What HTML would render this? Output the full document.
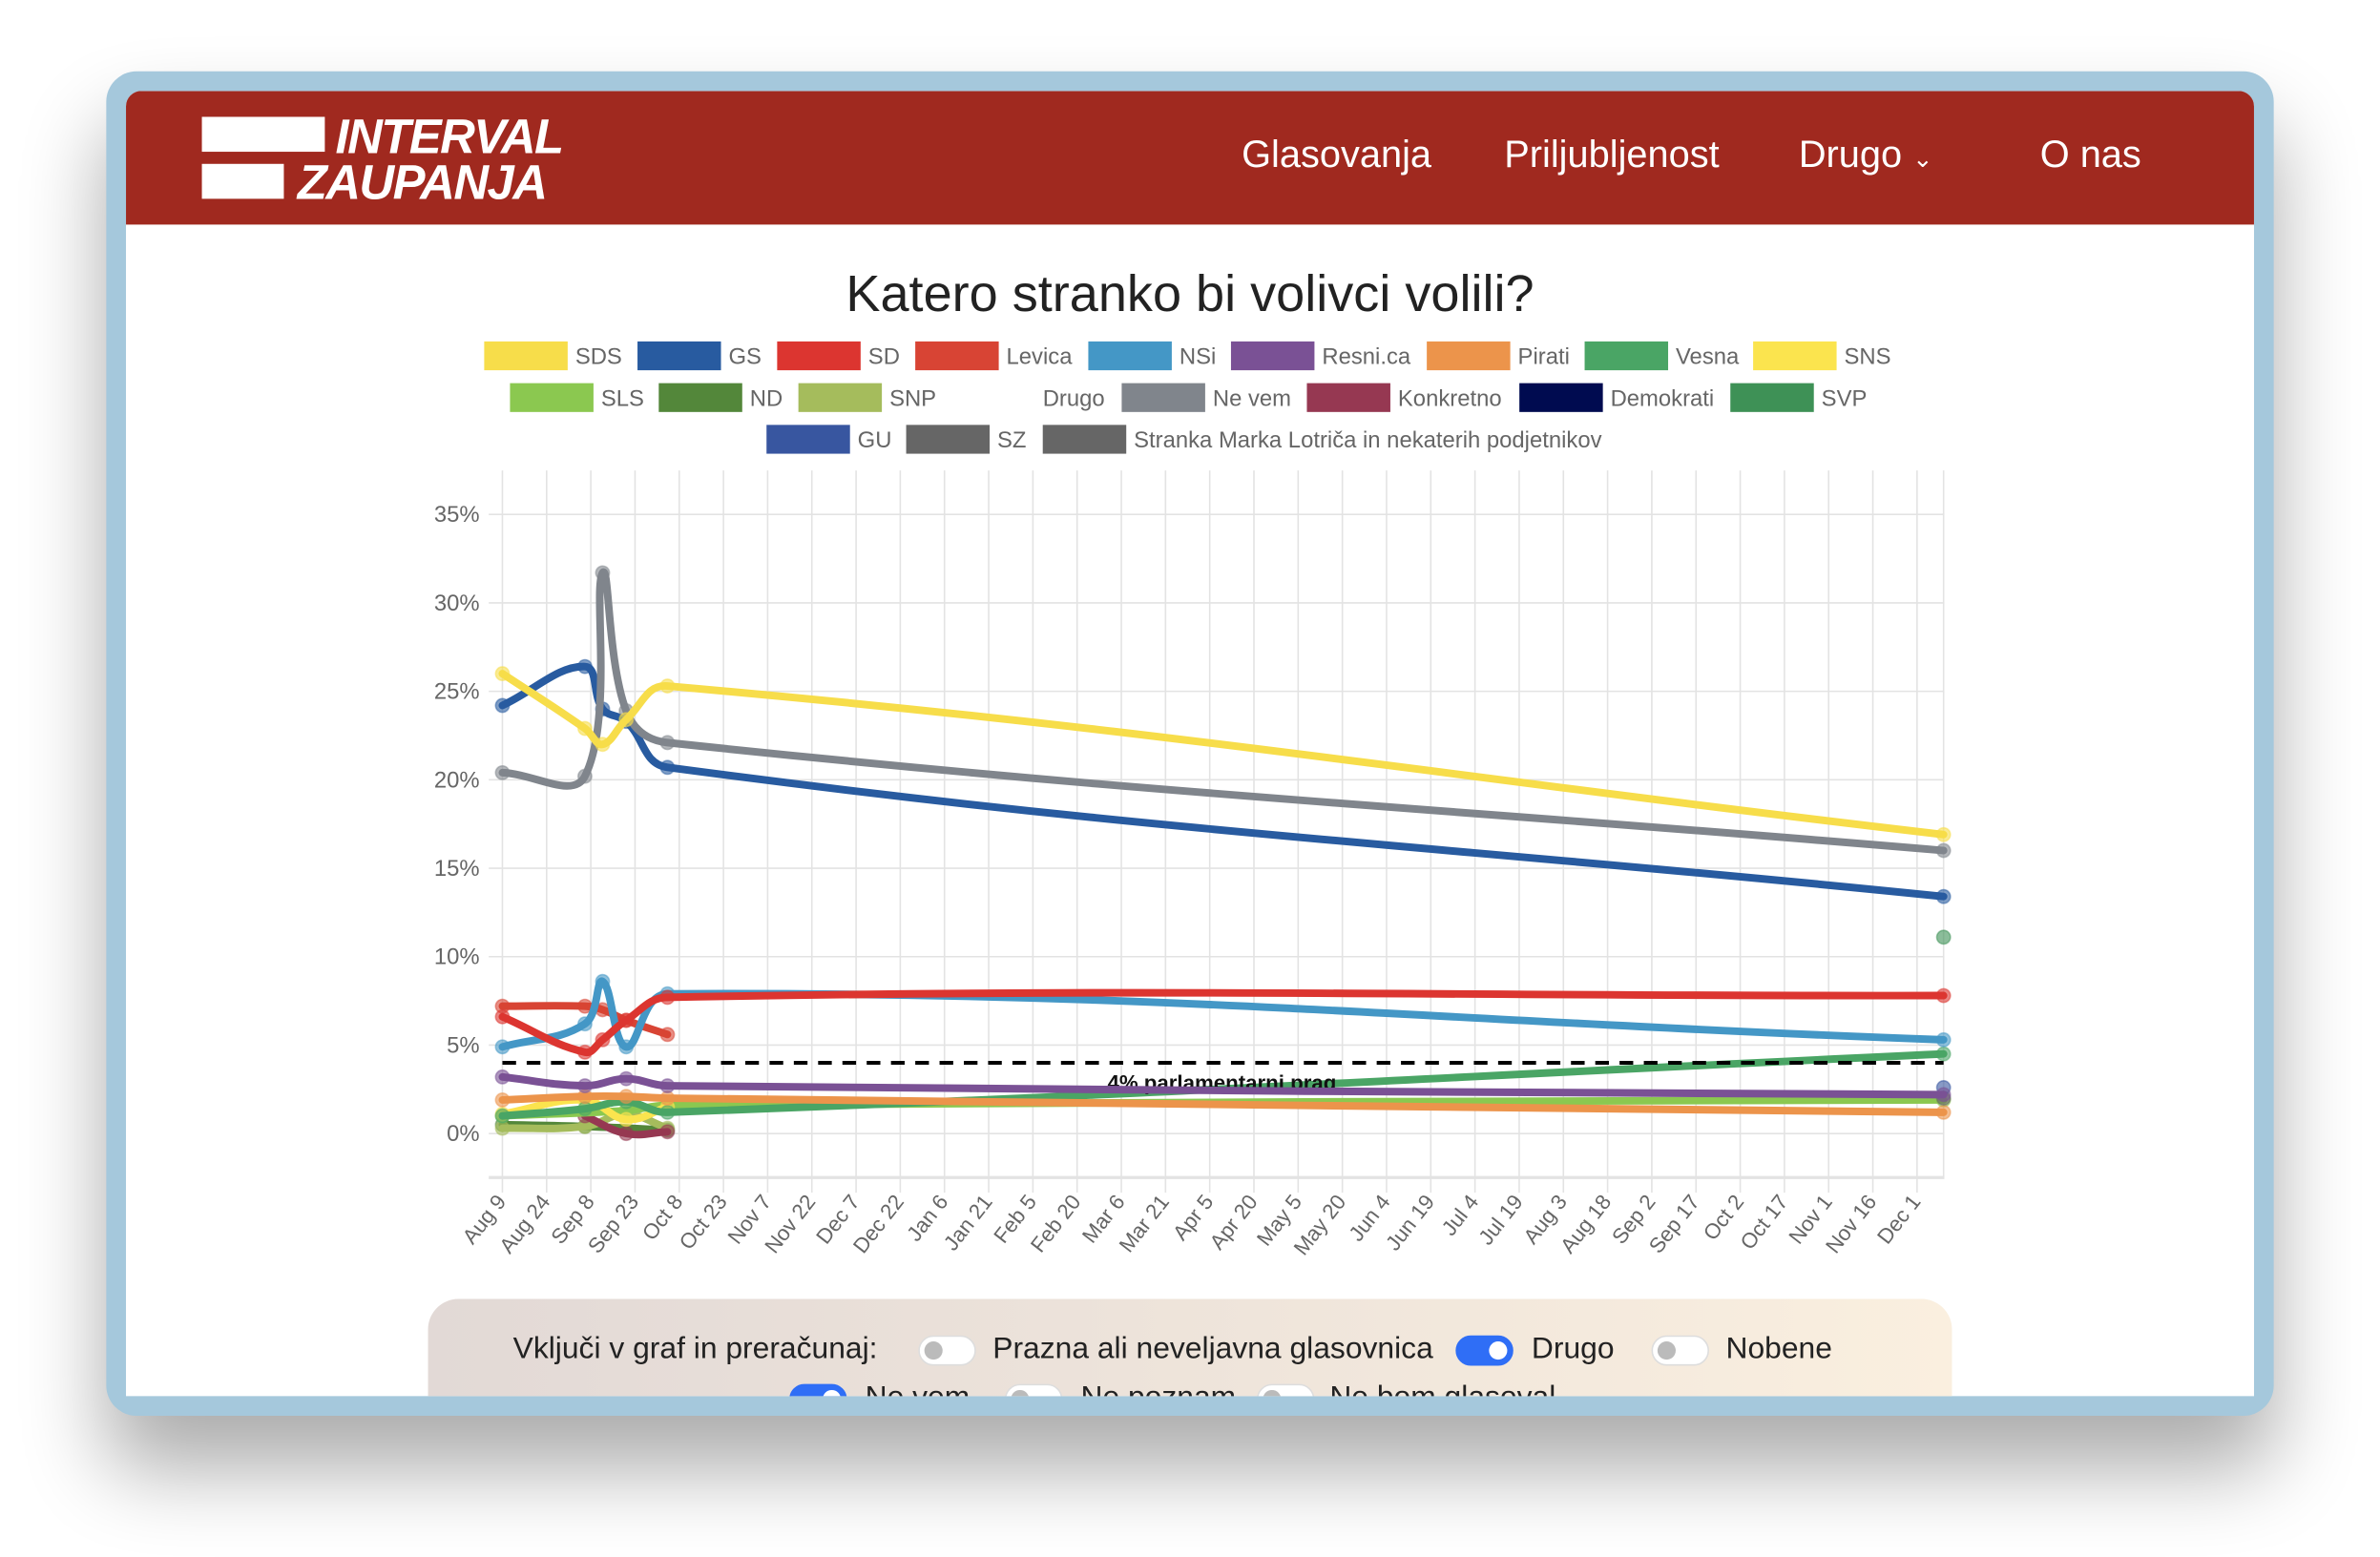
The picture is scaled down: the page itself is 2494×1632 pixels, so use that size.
<!DOCTYPE html>
<html><head><meta charset="utf-8"><style>
html,body{margin:0;padding:0;width:2494px;height:1632px;overflow:hidden;background:#fff;font-family:"Liberation Sans",sans-serif}
#root{position:absolute;left:0;top:0;width:1568px;height:1026px;transform:scale(1.590561);transform-origin:0 0}
#frame{position:absolute;left:70px;top:47px;width:1428px;height:886px;background:#a5c8dc;border-radius:20px;box-shadow:0 35px 55px rgba(0,0,0,0.33)}
#win{position:absolute;left:83px;top:60px;width:1402px;height:860px;background:#fff;border-radius:10px 10px 0 0;overflow:hidden}
#hdr{position:absolute;left:0;top:0;width:1402px;height:88px;background:#a0291f}
.nav{position:absolute;top:28px;color:#fff;font-size:25px}
#panel{position:absolute;left:199px;top:796px;width:1004px;height:100px;border-radius:20px;background:linear-gradient(90deg,#e2d9d6,#faefdf)}
.sw{position:absolute;width:36px;height:18px;border-radius:10px;background:#fff;border:1px solid #ddd}
.sw i{position:absolute;left:3px;top:3px;width:12px;height:12px;border-radius:50%;background:#bbb}
.sw.on{background:#2f6ef6;border-color:#2f6ef6}
.sw.on i{left:21px;background:#fff}
.pt{position:absolute;font-size:20px;color:#222}
</style></head><body>
<div id="root">
<div id="frame"></div>
<div id="win">
 <div id="hdr">
  <div style="position:absolute;left:50px;top:17px;width:260px;height:60px">
   <div style="position:absolute;left:0;top:0;width:81px;height:23px;background:#fff"></div>
   <div style="position:absolute;left:0;top:31px;width:54px;height:23px;background:#fff"></div>
   <div style="position:absolute;left:88px;top:-5px;color:#fff;font-weight:bold;font-style:italic;font-size:32px;letter-spacing:-1px">INTERVAL</div>
   <div style="position:absolute;left:63px;top:25px;color:#fff;font-weight:bold;font-style:italic;font-size:32px;letter-spacing:-1px">ZAUPANJA</div>
  </div>
  <div class="nav" style="left:735px">Glasovanja</div>
  <div class="nav" style="left:908px">Priljubljenost</div>
  <div class="nav" style="left:1102px">Drugo <span style="font-size:16px">&#8964;</span></div>
  <div class="nav" style="left:1261px">O nas</div>
 </div>
 <svg id="chart" width="1402" height="760" viewBox="83 148 1402 760" style="position:absolute;left:0;top:88px">
  <text x="784" y="205" text-anchor="middle" font-size="34" fill="#222">Katero stranko bi volivci volili?</text>
  <g id="legend"></g>
  <g id="grid"></g>
  <g id="series"></g>
 </svg>
 <div id="panel">
  <div class="pt" style="left:56px;top:22px">Vključi v graf in preračunaj:</div>
  <div class="sw" style="left:323px;top:24px"><i></i></div>
  <div class="pt" style="left:372px;top:22px">Prazna ali neveljavna glasovnica</div>
  <div class="sw on" style="left:677px;top:24px"><i></i></div>
  <div class="pt" style="left:727px;top:22px">Drugo</div>
  <div class="sw" style="left:806px;top:24px"><i></i></div>
  <div class="pt" style="left:855px;top:22px">Nobene</div>
  <div class="sw on" style="left:238px;top:56px"><i></i></div>
  <div class="pt" style="left:288px;top:54px">Ne vem</div>
  <div class="sw" style="left:380px;top:56px"><i></i></div>
  <div class="pt" style="left:430px;top:54px">Ne poznam</div>
  <div class="sw" style="left:546px;top:56px"><i></i></div>
  <div class="pt" style="left:594px;top:54px">Ne bom glasoval</div>
 </div>
</div>
</div>
<script>
const dayOffsets=[0,28,34,42,56,489];
const tickLabels=["Aug 9","Aug 24","Sep 8","Sep 23","Oct 8","Oct 23","Nov 7","Nov 22","Dec 7","Dec 22","Jan 6","Jan 21","Feb 5","Feb 20","Mar 6","Mar 21","Apr 5","Apr 20","May 5","May 20","Jun 4","Jun 19","Jul 4","Jul 19","Aug 3","Aug 18","Sep 2","Sep 17","Oct 2","Oct 17","Nov 1","Nov 16","Dec 1"];
const yTicks=[0,5,10,15,20,25,30,35];
const threshold=4;
const ND=[0.5,0.4,null,null,0.2,null];
const SNP=[0.3,0.4,null,1.1,0.3,null];
const Konkretno=[null,1.0,null,0.0,0.1,null];
const SLS=[1.0,null,null,1.3,1.6,1.9];
const SNS=[1.1,1.9,null,0.8,1.5,null];
const Vesna=[1.0,1.4,null,1.8,1.2,4.5];
const Pirati=[1.9,2.1,null,2.1,2.0,1.2];
const SZ=[null,null,null,null,null,2.0];
const GU=[null,null,null,null,null,2.6];
const Resni=[3.2,2.7,null,3.1,2.7,2.2];
const SVP=[null,null,null,null,null,11.1];
const Levica=[7.2,7.2,7.0,6.4,5.6,null];
const NSi=[4.9,6.2,8.6,4.9,7.9,5.3];
const SD=[6.6,4.6,5.3,6.4,7.7,7.8];
const GS=[24.2,26.4,24.0,23.3,20.7,13.4];
const NeVem=[20.4,20.2,31.7,23.9,22.1,16.0];
const SDS=[26.0,22.9,22.0,23.4,25.3,16.9];
const seriesList=[
 ["nd",ND,"#53873a"],["snp",SNP,"#a5bc5c"],["konkretno",Konkretno,"#963852"],["sls",SLS,"#8bc850"],
 ["sns",SNS,"#fbe44e"],["vesna",Vesna,"#4aa565"],["pirati",Pirati,"#ec944b"],["sz",SZ,"#666666"],["gu",GU,"#3856a0"],
 ["resni-ca",Resni,"#7a5195"],["svp",SVP,"#3e9156"],["levica",Levica,"#d84434"],["nsi",NSi,"#4497c6"],
 ["sd",SD,"#dc3530"],["gs",GS,"#285ba0"],["ne-vem",NeVem,"#80858c"],["sds",SDS,"#f7dd4a"]];
const legendRows=[
 [["SDS","#f7dd4a",319],["GS","#285ba0",420],["SD","#dc3530",512],["Levica","#d84434",603],["NSi","#4497c6",717],["Resni.ca","#7a5195",811],["Pirati","#ec944b",940],["Vesna","#4aa565",1044],["SNS","#fbe44e",1155]],
 [["SLS","#8bc850",336],["ND","#53873a",434],["SNP","#a5bc5c",526],["Drugo","#ffffff",627],["Ne vem","#80858c",739],["Konkretno","#963852",861],["Demokrati","#000b50",1001],["SVP","#3e9156",1140]],
 [["GU","#3856a0",505],["SZ","#666666",597],["Stranka Marka Lotriča in nekaterih podjetnikov","#666666",687]]];
const NS="http://www.w3.org/2000/svg";
function X(d){return 331+d/15*29.125;}
function Y(v){return 747-v*11.657;}
function mk(tag,attrs,parent){const e=document.createElementNS(NS,tag);for(const k in attrs)e.setAttribute(k,attrs[k]);parent.appendChild(e);return e;}
const lg=document.getElementById('legend');
legendRows.forEach((row,ri)=>{const y=225+ri*27.5;row.forEach(it=>{
 const r=mk('rect',{x:it[2],y:y,width:55,height:19,fill:it[1]},lg);
 
 
 const t=mk('text',{x:it[2]+60,y:y+15,'font-size':15,fill:'#666'},lg);t.textContent=it[0];
 
 
});});
const g=document.getElementById('grid');
tickLabels.forEach((lab,i)=>{const x=X(i*15);
 const l=mk('line',{x1:x,x2:x,y1:310,y2:786,stroke:'#e3e3e3','stroke-width':1},g);
 
 
 const t=mk('text',{x:x+3,y:792,'font-size':14,fill:'#666','text-anchor':'end',transform:`rotate(-52 ${x+3} 792)`},g);t.textContent=lab;
 
 
});
const lx=X(489);
mk('line',{x1:lx,x2:lx,y1:310,y2:776,stroke:'#e3e3e3','stroke-width':1},g);
yTicks.forEach(v=>{const y=Y(v);
 const l=mk('line',{x1:322,x2:1281,y1:y,y2:y,stroke:'#e3e3e3','stroke-width':1},g);
 
 
 const t=mk('text',{x:316,y:y+5,'font-size':15,fill:'#666','text-anchor':'end'},g);t.textContent=v+'%';
 
 
});
const ax=mk('line',{x1:322,x2:1281,y1:776,y2:776,stroke:'#e3e3e3','stroke-width':2},g);


const sg=document.getElementById('series');
function pathFor(pts){
 const t=0.4;const cps=pts.map((p,i)=>{
  const p0=pts[i-1]||p,p2=pts[i+1]||p;
  const d01=Math.hypot(p[0]-p0[0],p[1]-p0[1]),d12=Math.hypot(p2[0]-p[0],p2[1]-p[1]);
  const s=d01+d12||1;const fa=t*d01/s,fb=t*d12/s;
  return {pr:[p[0]-fa*(p2[0]-p0[0]),p[1]-fa*(p2[1]-p0[1])],nx:[p[0]+fb*(p2[0]-p0[0]),p[1]+fb*(p2[1]-p0[1])]};
 });
 let d=`M${pts[0][0]},${pts[0][1]}`;
 for(let i=1;i<pts.length;i++){const a=cps[i-1].nx,b=cps[i].pr;d+=` C${a[0]},${a[1]} ${b[0]},${b[1]} ${pts[i][0]},${pts[i][1]}`;}
 return d;
}
seriesList.forEach(([name,vals,col])=>{
 const pts=[];vals.forEach((v,i)=>{if(v!==null)pts.push([X(dayOffsets[i]),Y(v)]);});
 if(pts.length>1){const p=mk('path',{d:pathFor(pts),fill:'none',stroke:col,'stroke-width':5,'stroke-linecap':'round'},sg);
  
  }
 pts.forEach(q=>{const c=mk('circle',{cx:q[0],cy:q[1],r:4.5,fill:col,'fill-opacity':0.6,stroke:col,'stroke-opacity':0.5,'stroke-width':1},sg);
  
  });
 if(name==='vesna'){
  const ty=Y(threshold);
  const th=mk('line',{x1:331,x2:lx,y1:ty,y2:ty,stroke:'#000','stroke-width':2.5,'stroke-dasharray':'9 7'},sg);
  
  
  const tt=mk('text',{x:805,y:ty+18,'font-size':14,'font-weight':'bold',fill:'#111','text-anchor':'middle'},sg);tt.textContent='4% parlamentarni prag';
  
  
 }
});
</script>
</body></html>
